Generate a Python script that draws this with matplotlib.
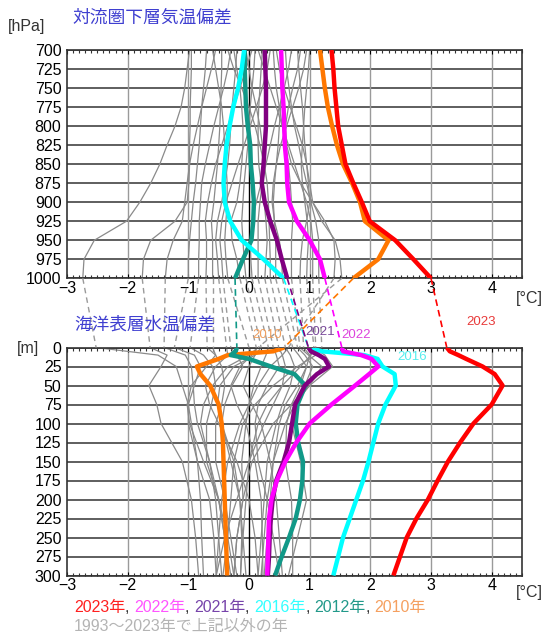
import matplotlib
matplotlib.use("Agg")
import matplotlib.pyplot as plt
from matplotlib.ticker import MultipleLocator

plt.rcParams['font.family'] = ['Liberation Sans', 'Noto Sans CJK JP']

# ---- data ----
levels = [700, 725, 750, 775, 800, 825, 850, 875, 900, 925, 950, 975, 1000]
depths = [0, 5, 10, 15, 25, 35, 50, 75, 100, 125, 150, 175, 200, 225, 250, 275, 300]
gray_depths = [0, 10, 25, 50, 75, 100, 150, 200, 250, 300]

atm_2023 = [1.36, 1.39, 1.41, 1.44, 1.47, 1.53, 1.59, 1.72, 1.86, 1.99, 2.41, 2.71, 3.00]
atm_2022 = [0.53, 0.54, 0.55, 0.57, 0.58, 0.59, 0.62, 0.63, 0.66, 0.79, 1.00, 1.17, 1.25]
atm_2021 = [0.26, 0.27, 0.28, 0.28, 0.28, 0.26, 0.24, 0.21, 0.26, 0.35, 0.46, 0.54, 0.63]
atm_2016 = [-0.08, -0.12, -0.18, -0.26, -0.32, -0.37, -0.40, -0.42, -0.40, -0.31, -0.12, 0.24, 0.57]
atm_2012 = [-0.07, -0.07, -0.06, -0.05, -0.02, 0.02, 0.03, 0.06, 0.08, 0.07, 0.04, -0.10, -0.23]
atm_2010 = [1.17, 1.21, 1.25, 1.30, 1.37, 1.45, 1.55, 1.70, 1.83, 1.91, 2.30, 2.13, 1.72]

ocn_2023 = [3.26, 3.31, 3.45, 3.58, 3.85, 4.05, 4.18, 4.00, 3.70, 3.48, 3.28, 3.11, 2.95, 2.76, 2.60, 2.49, 2.38]
ocn_2022 = [1.53, 1.55, 1.85, 2.02, 2.13, 1.98, 1.75, 1.36, 1.00, 0.78, 0.60, 0.46, 0.37, 0.33, 0.32, 0.31, 0.30]
ocn_2021 = [0.98, 1.02, 1.15, 1.25, 1.32, 1.12, 0.92, 0.76, 0.71, 0.66, 0.57, 0.45, 0.39, 0.36, 0.34, 0.33, 0.31]
ocn_2016 = [0.98, 1.20, 1.90, 2.12, 2.20, 2.40, 2.42, 2.25, 2.13, 2.05, 1.97, 1.88, 1.77, 1.66, 1.55, 1.47, 1.39]
ocn_2012 = [-0.20, -0.22, -0.30, 0.00, 0.36, 0.75, 0.93, 0.80, 0.77, 0.81, 0.89, 0.88, 0.84, 0.77, 0.66, 0.54, 0.43]
ocn_2010 = [0.58, 0.40, -0.35, -0.50, -0.86, -0.80, -0.64, -0.50, -0.45, -0.43, -0.42, -0.41, -0.40, -0.39, -0.38, -0.37, -0.36]

# other years 1993-2023 (700..1000 hPa)
gray_atm = [
    [-0.98, -1.02, -1.06, -1.12, -1.22, -1.35, -1.47, -1.62, -1.80, -2.02, -2.55, -2.72, -2.74],
    [-0.95, -0.95, -0.96, -0.97, -0.97, -0.98, -0.98, -0.99, -1.02, -1.22, -1.62, -1.74, -1.76],
    [-0.55, -0.62, -0.70, -0.78, -0.85, -0.92, -0.98, -1.02, -1.06, -1.10, -1.25, -1.35, -1.38],
    [-0.70, -0.72, -0.75, -0.78, -0.80, -0.82, -0.85, -0.88, -0.92, -0.95, -0.98, -1.00, -1.00],
    [-0.30, -0.35, -0.42, -0.50, -0.58, -0.65, -0.72, -0.78, -0.80, -0.82, -0.82, -0.83, -0.83],
    [0.05, -0.05, -0.15, -0.25, -0.35, -0.45, -0.55, -0.62, -0.68, -0.72, -0.70, -0.70, -0.71],
    [-0.45, -0.45, -0.46, -0.47, -0.48, -0.50, -0.52, -0.55, -0.58, -0.62, -0.60, -0.60, -0.60],
    [-0.20, -0.22, -0.25, -0.28, -0.30, -0.32, -0.35, -0.40, -0.45, -0.52, -0.55, -0.52, -0.50],
    [0.35, 0.30, 0.22, 0.12, 0.02, -0.08, -0.18, -0.28, -0.38, -0.45, -0.48, -0.45, -0.43],
    [-0.60, -0.55, -0.50, -0.45, -0.42, -0.40, -0.38, -0.36, -0.36, -0.38, -0.40, -0.38, -0.35],
    [-0.25, -0.20, -0.15, -0.12, -0.10, -0.10, -0.12, -0.15, -0.20, -0.30, -0.28, -0.20, -0.15],
    [0.10, 0.08, 0.05, 0.02, 0.00, -0.02, -0.05, -0.08, -0.10, -0.12, -0.10, -0.08, -0.05],
    [-0.05, 0.00, 0.05, 0.12, 0.18, 0.22, 0.25, 0.20, 0.12, 0.05, 0.02, 0.03, 0.05],
    [0.70, 0.65, 0.58, 0.50, 0.42, 0.35, 0.28, 0.22, 0.18, 0.15, 0.15, 0.15, 0.15],
    [0.22, 0.20, 0.18, 0.16, 0.15, 0.15, 0.16, 0.20, 0.25, 0.28, 0.30, 0.28, 0.26],
    [-0.35, -0.25, -0.12, 0.00, 0.10, 0.18, 0.25, 0.30, 0.32, 0.33, 0.34, 0.35, 0.35],
    [0.55, 0.55, 0.55, 0.52, 0.50, 0.48, 0.45, 0.42, 0.40, 0.42, 0.44, 0.44, 0.44],
    [0.95, 0.90, 0.82, 0.72, 0.62, 0.52, 0.45, 0.40, 0.38, 0.42, 0.50, 0.54, 0.55],
    [0.40, 0.42, 0.45, 0.50, 0.55, 0.60, 0.65, 0.68, 0.70, 0.72, 0.70, 0.70, 0.70],
    [0.80, 0.82, 0.85, 0.88, 0.90, 0.92, 0.95, 0.98, 1.00, 0.95, 0.88, 0.85, 0.84],
    [1.00, 0.98, 0.95, 0.92, 0.90, 0.88, 0.86, 0.88, 0.92, 0.96, 0.98, 0.96, 0.95],
    [0.15, 0.25, 0.35, 0.45, 0.55, 0.65, 0.75, 0.85, 0.95, 1.02, 1.05, 1.05, 1.05],
    [0.60, 0.62, 0.66, 0.70, 0.75, 0.82, 0.88, 0.95, 1.02, 1.10, 1.15, 1.15, 1.15],
    [0.85, 0.80, 0.72, 0.65, 0.60, 0.62, 0.70, 0.85, 1.05, 1.25, 1.40, 1.42, 1.40],
    [0.45, 0.50, 0.58, 0.68, 0.78, 0.88, 0.95, 1.00, 1.05, 1.20, 1.42, 1.50, 1.53],
]
# same years, ocean (gray_depths)
gray_ocn = [
    [-2.52, -1.50, -1.20, -1.10, -1.00, -0.95, -0.85, -0.80, -0.78, -0.75],
    [-1.63, -1.35, -1.45, -1.65, -1.52, -1.45, -1.10, -0.95, -0.88, -0.83],
    [-1.40, -1.05, -0.95, -0.92, -0.90, -0.85, -0.65, -0.55, -0.50, -0.45],
    [-1.23, -0.90, -0.80, -0.90, -1.00, -1.00, -0.85, -0.65, -0.58, -0.54],
    [-0.97, -0.75, -0.60, -0.55, -0.62, -0.70, -0.70, -0.50, -0.35, -0.25],
    [-0.69, -0.55, -0.45, -0.40, -0.45, -0.55, -0.55, -0.40, -0.30, -0.20],
    [-0.60, -0.55, -0.70, -0.95, -1.02, -0.98, -0.75, -0.50, -0.40, -0.35],
    [-0.37, -0.35, -0.55, -0.72, -0.65, -0.50, -0.20, 0.00, 0.10, 0.15],
    [-0.30, -0.20, -0.10, -0.28, -0.40, -0.45, -0.30, -0.15, -0.10, -0.05],
    [0.00, 0.05, -0.15, -0.30, -0.20, -0.05, 0.10, 0.20, 0.22, 0.23],
    [0.12, 0.10, 0.00, -0.10, 0.05, 0.20, 0.35, 0.45, 0.50, 0.55],
    [0.20, 0.10, -0.25, -0.48, -0.52, -0.45, -0.25, -0.15, -0.12, -0.14],
    [0.32, 0.28, 0.20, 0.08, 0.00, -0.05, -0.12, -0.10, -0.20, -0.25],
    [0.40, 0.45, 0.50, 0.30, 0.15, 0.10, 0.15, 0.30, 0.40, 0.50],
    [0.49, 0.55, 0.60, 0.55, 0.40, 0.25, 0.00, -0.20, -0.40, -0.54],
    [0.60, 0.68, 0.75, 0.68, 0.55, 0.45, 0.30, 0.25, 0.20, 0.15],
    [0.72, 0.82, 0.95, 0.85, 0.70, 0.62, 0.60, 0.70, 0.72, 0.72],
    [0.80, 0.92, 1.05, 0.92, 0.78, 0.70, 0.85, 0.95, 0.80, 0.65],
    [0.84, 0.98, 1.20, 1.00, 0.70, 0.40, 0.05, -0.10, -0.20, -0.25],
    [0.90, 1.00, 0.95, 0.80, 0.60, 0.50, 0.40, 0.35, 0.30, 0.25],
    [1.07, 1.25, 1.38, 1.00, 0.75, 0.60, 0.40, 0.30, 0.25, 0.20],
    [1.10, 1.02, 0.85, 0.55, 0.30, 0.15, 0.00, -0.05, -0.10, -0.14],
    [1.20, 1.10, 0.80, 0.40, 0.10, -0.10, -0.25, -0.30, -0.35, -0.43],
    [0.65, 0.55, 0.35, 0.15, 0.00, -0.15, -0.35, -0.45, -0.50, -0.54],
    [0.15, 0.00, -0.35, -0.60, -0.75, -0.80, -0.65, -0.50, -0.40, -0.30],
]

years = ["2010", "2012", "2016", "2021", "2022", "2023"]
atm = [atm_2010, atm_2012, atm_2016, atm_2021, atm_2022, atm_2023]
ocn = [ocn_2010, ocn_2012, ocn_2016, ocn_2021, ocn_2022, ocn_2023]
colors = ["#ff7700", "#119988", "#00ffff", "#800080", "#ff00ff", "#ff0000"]

W, H = 546, 635
fig = plt.figure(figsize=(W / 100, H / 100), dpi=100)
L, R = 67 / W, 522 / W
ax1 = fig.add_axes([L, 1 - 278.3 / H, R - L, (278.3 - 50) / H])
ax2 = fig.add_axes([L, 1 - 575.5 / H, R - L, (575.5 - 347.5) / H])
axm = fig.add_axes([L, 1 - 347.5 / H, R - L, (347.5 - 278.3) / H])
axm.set_xlim(-3, 4.5)
axm.set_ylim(0, 1)
axm.axis("off")

for ax, yt in [(ax1, levels), (ax2, list(range(0, 301, 25)))]:
    ax.set_xlim(-3, 4.5)
    ax.set_ylim(max(yt), min(yt))
    ax.set_yticks(yt)
    ax.set_xticks(range(-3, 5))
    for y in yt:
        ax.axhline(y, color="#333333", lw=1.1, zorder=1)
    for x in range(-2, 5):
        ax.axvline(x, color="#000000" if x == 0 else "#9a9a9a", lw=1.0, zorder=1)
    ax.xaxis.set_minor_locator(MultipleLocator(0.1))
    ax.tick_params(axis="y", length=0, labelsize=11.5, pad=4)
    ax.tick_params(axis="x", which="major", direction="in", top=True, length=3,
                   labelsize=11.5, pad=2)
    ax.tick_params(axis="x", which="minor", direction="in", top=True, length=2,
                   width=0.8, color="#333333")
    for s in ax.spines.values():
        s.set_linewidth(1.2)
        s.set_color("#333333")

# gray years
for ga, go in zip(gray_atm, gray_ocn):
    ax1.plot(ga, levels, color="#8a8a8a", lw=0.9, zorder=2)
    ax2.plot(go, gray_depths, color="#8a8a8a", lw=0.9, zorder=2)
    axm.plot([ga[-1], go[0]], [1, 0], color="#9a9a9a", lw=1.0, ls=(0, (4, 3)), clip_on=False)

# highlighted years
for a, o, c in zip(atm, ocn, colors):
    ax1.plot(a, levels, color=c, lw=3.2, zorder=3, solid_capstyle="butt")
    ax2.plot(o, depths, color=c, lw=3.2, zorder=3, solid_capstyle="butt")
    axm.plot([a[-1], o[0]], [1, 0], color=c, lw=1.2, ls=(0, (4, 2.5)), clip_on=False, zorder=3)

def ftxt(x, y, s, **kw):
    return fig.text(x / W, 1 - y / H, s, **kw)

ftxt(72, 18, "対流圏下層気温偏差", color="#3f3fd0", fontsize=12.8, va="center")
ftxt(74, 325, "海洋表層水温偏差", color="#3f3fd0", fontsize=12.7, va="center")
ftxt(8, 27, "[hPa]", color="#333333", fontsize=11.5, va="center")
ftxt(17, 348, "[m]", color="#333333", fontsize=11.5, va="center")
ftxt(543, 298, "[°C]", color="#333333", fontsize=11.5, va="center", ha="right")
ftxt(543, 593, "[°C]", color="#333333", fontsize=11.5, va="center", ha="right")

ftxt(481, 322, "2023", color="#e83a3a", fontsize=9.5, ha="center", va="center")
ftxt(356, 335, "2022", color="#dd44dd", fontsize=9.5, ha="center", va="center")
ftxt(320, 332, "2021", color="#7a4a9a", fontsize=9.5, ha="center", va="center")
ftxt(267, 335, "2010", color="#f0a060", fontsize=9.5, ha="center", va="center")
ftxt(412, 357, "2016", color="#55eeee", fontsize=9.5, ha="center", va="center")

# colored legend line
legend_parts = [("2023年", "#ff2020"), (", ", "#333333"), ("2022年", "#ff55ff"), (", ", "#333333"),
                ("2021年", "#7744aa"), (", ", "#333333"), ("2016年", "#33ffff"), (", ", "#333333"),
                ("2012年", "#22998a"), (", ", "#333333"), ("2010年", "#f5a060")]
prev = ftxt(74, 615, legend_parts[0][0], color=legend_parts[0][1], fontsize=11.5, va="bottom")
for s, c in legend_parts[1:]:
    prev = ax2.annotate(s, xy=(1, 0), xycoords=prev, va="bottom", ha="left",
                        color=c, fontsize=11.5, annotation_clip=False)
ftxt(74, 626, "1993～2023年で上記以外の年", color="#b4b4b4", fontsize=11.5, va="center")

fig.savefig("out.png", dpi=100)
